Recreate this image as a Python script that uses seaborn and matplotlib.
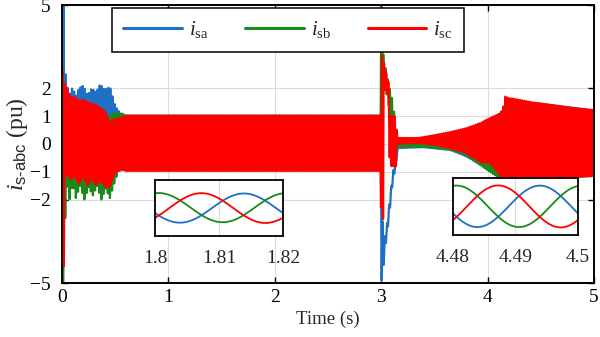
import numpy as np
import pandas as pd
import matplotlib
matplotlib.use("Agg")
import matplotlib.pyplot as plt
from matplotlib.lines import Line2D
import seaborn as sns

# ---------------- data ----------------
FREQ = 50.0                 # Hz, fundamental of the three-phase currents
SAMPLES_PER_CYCLE = 100
PHASE_A = -0.445            # phase offsets in cycles
PHASE_B = PHASE_A - 1 / 3
PHASE_C = PHASE_A - 2 / 3

# envelope knots (upper / lower) of each phase current, pu
TIME_A = [0.0, 0.014, 0.02, 0.03, 0.056, 0.075, 0.10, 0.13, 0.16, 0.20, 0.24, 0.28, 0.32,
          0.36, 0.40, 0.45, 0.50, 0.56, 0.60, 2.99, 3.00, 3.015, 3.03, 3.05, 3.08, 3.11,
          3.13, 3.16, 3.40, 3.65, 3.80, 3.93, 4.05, 4.15, 4.20, 4.50, 5.00]
UP_A = [4.0, 5.0, 3.6, 2.6, 1.95, 1.8, 2.05, 1.7, 2.0, 2.1, 1.75, 2.0, 1.85, 2.15, 1.95,
        2.05, 1.35, 1.05, 1.0, 1.0, 1.0, -3.5, -3.4, -3.0, -2.0, -1.0, -0.7, 0.05, 0.1,
        0.35, 0.5, 0.7, 0.9, 1.2, 1.55, 1.45, 1.2]
LO_A = [-1.0, -1.0, -1.0, -1.0, -1.0, -1.0, -1.0, -1.0, -1.0, -1.0, -1.0, -1.0, -1.0,
        -1.0, -1.0, -1.0, -1.0, -0.95, -0.95, -0.95, -4.9, -4.9, -3.9, -3.4, -2.4, -1.3,
        -0.95, -0.15, -0.12, -0.22, -0.45, -0.75, -0.95, -1.2, -1.3, -1.25, -1.15]

TIME_B = [0.0, 0.01, 0.02, 0.03, 0.045, 0.07, 0.10, 0.13, 0.17, 0.21, 0.25, 0.29, 0.33,
          0.37, 0.41, 0.45, 0.48, 0.53, 0.56, 0.60, 2.99, 3.00, 3.02, 3.05, 3.08, 3.11,
          3.15, 3.40, 3.65, 3.80, 3.93, 4.02, 4.12, 4.15, 4.20, 4.50, 5.00]
UP_B = [1.0, 1.0, 1.0, 1.0, 1.0, 1.0, 1.0, 1.0, 1.0, 1.0, 1.0, 1.0, 1.0, 1.0, 1.0, 1.0,
        1.1, 1.1, 1.1, 1.03, 1.03, 5.0, 3.2, 2.5, 2.0, 1.5, 0.2, 0.15, 0.35, 0.5, 0.7,
        0.9, 1.1, 1.2, 1.55, 1.45, 1.2]
LO_B = [-1.0, -5.0, -3.5, -2.7, -1.4, -2.0, -1.4, -1.95, -1.5, -2.0, -1.55, -1.85, -1.5,
        -2.0, -1.6, -1.95, -1.55, -0.95, -0.85, -0.92, -0.92, -0.92, 2.4, 1.8, 1.2, -0.5,
        -0.1, -0.1, -0.2, -0.4, -0.75, -1.0, -1.25, -1.3, -1.3, -1.25, -1.15]

TIME_C = [0.0, 0.007, 0.018, 0.025, 0.05, 0.08, 0.12, 0.16, 0.20, 0.24, 0.28, 0.32, 0.36,
          0.40, 0.45, 0.50, 0.56, 0.60, 2.99, 3.00, 3.018, 3.022, 3.05, 3.07, 3.08, 3.14,
          3.15, 3.35, 3.50, 3.65, 3.80, 3.93, 4.02, 4.12, 4.16, 4.175, 4.19, 4.21, 4.42,
          4.74, 5.00]
UP_C = [2.6, 2.6, 2.4, 2.2, 2.0, 1.65, 1.7, 1.55, 1.6, 1.5, 1.45, 1.4, 1.3, 1.2, 0.8,
        0.9, 0.95, 1.02, 1.02, 3.3, 3.0, 3.0, 2.5, 2.2, 1.0, 1.0, 0.22, 0.22, 0.32, 0.43,
        0.57, 0.75, 0.93, 1.1, 1.47, 1.95, 1.6, 1.65, 1.5, 1.33, 1.22]
LO_C = [-1.0, -4.4, -4.4, -1.2, -1.1, -1.3, -1.15, -1.45, -1.2, -1.5, -1.25, -1.5, -1.3,
        -1.55, -1.55, -1.05, -0.9, -0.97, -0.97, -2.7, -2.7, 2.0, 1.9, 1.7, -0.8, -0.8,
        0.0, 0.04, -0.03, -0.15, -0.33, -0.65, -0.68, -1.15, -1.2, -1.3, -1.3, -1.35,
        -1.3, -1.2, -1.15]

SERIES = ["isa", "isb", "isc"]
LABELS = [r"$i_{\mathrm{sa}}$", r"$i_{\mathrm{sb}}$", r"$i_{\mathrm{sc}}$"]
COLORS = ["#1f6fc5", "#1a8a1a", "#ff0000"]
X_TICKS = [0, 1, 2, 3, 4, 5]
Y_TICKS = [-5, -2, -1, 0, 1, 2, 5]
INSET1_TICKS = [1.80, 1.81, 1.82]
INSET1_LABELS = ["1.8", "1.81", "1.82"]
INSET2_TICKS = [4.48, 4.49, 4.50]
INSET2_LABELS = ["4.48", "4.49", "4.5"]

# ---------------- build waveforms ----------------
t = np.arange(0, 5.0 + 1e-9, 1.0 / (FREQ * SAMPLES_PER_CYCLE))


def phase_current(times, up, lo, phase):
    u = np.interp(t, times, up)
    l = np.interp(t, times, lo)
    return (u + l) / 2 + (u - l) / 2 * np.sin(2 * np.pi * (FREQ * t + phase))


frames = []
for name, (tk, up, lo, ph) in zip(SERIES, [(TIME_A, UP_A, LO_A, PHASE_A),
                                          (TIME_B, UP_B, LO_B, PHASE_B),
                                          (TIME_C, UP_C, LO_C, PHASE_C)]):
    frames.append(pd.DataFrame({"t": t, "i": phase_current(tk, up, lo, ph), "phase": name}))
df = pd.concat(frames, ignore_index=True)
palette = dict(zip(SERIES, COLORS))

# ---------------- style ----------------
sns.set_theme(style="ticks")
plt.rcParams["font.family"] = ["Liberation Serif", "DejaVu Serif"]
plt.rcParams["mathtext.fontset"] = "custom"
plt.rcParams["mathtext.rm"] = "Liberation Serif"
plt.rcParams["mathtext.it"] = "Liberation Serif:italic"
plt.rcParams["mathtext.sf"] = "Liberation Sans"
plt.rcParams["axes.unicode_minus"] = True

fig = plt.figure(figsize=(6.0, 3.37), dpi=100)
ax = fig.add_axes([62 / 600, 1 - 283 / 337, 532 / 600, 278 / 337])

sns.lineplot(data=df, x="t", y="i", hue="phase", hue_order=SERIES, palette=palette,
             estimator=None, sort=False, lw=1.6, legend=False, ax=ax)

ax.set_xlim(0, 5)
ax.set_ylim(-5, 5)
ax.set_xticks(X_TICKS)
ax.set_xticklabels([str(v) for v in X_TICKS])
ax.set_yticks(Y_TICKS)
ax.set_yticklabels([("\u2212" + str(-v)) if v < 0 else str(v) for v in Y_TICKS])
ax.grid(True, color="#dcdcdc", lw=0.8)
ax.set_axisbelow(True)
ax.tick_params(direction="in", top=True, right=True, length=4, width=1,
               labelsize=14, colors="black")
ax.tick_params(axis="x", pad=4)
ax.tick_params(axis="y", pad=8)
for s in ax.spines.values():
    s.set_color("black")
    s.set_linewidth(1.4)
ax.set_xlabel("Time (s)", fontsize=13.5, labelpad=4)
ax.set_ylabel("$i_{\\mathsf{s\u2010abc}}$ (pu)", fontsize=17, labelpad=0)

handles = [Line2D([], [], color=c, lw=2.2) for c in COLORS]
leg = ax.legend(handles, LABELS, loc="upper left", bbox_to_anchor=(0.094, 0.99),
                borderaxespad=0.0, ncol=3, fontsize=15, handlelength=2.8,
                handletextpad=0.35, columnspacing=1.75, borderpad=0.55, frameon=True,
                fancybox=False, framealpha=1.0, edgecolor="black")
leg.get_frame().set_linewidth(1.1)

# ---------------- insets ----------------
def inset(rect, xlim, ylim, ticks, labels):
    axi = fig.add_axes(rect)
    sub = df[(df["t"] >= xlim[0] - 0.001) & (df["t"] <= xlim[1] + 0.001)]
    sns.lineplot(data=sub, x="t", y="i", hue="phase", hue_order=SERIES, palette=palette,
                 estimator=None, sort=False, lw=1.3, legend=False, ax=axi)
    axi.set_xlim(*xlim)
    axi.set_ylim(*ylim)
    axi.set_xticks(ticks)
    axi.set_xticklabels(labels)
    axi.set_yticks([])
    axi.set_xlabel("")
    axi.set_ylabel("")
    axi.grid(True, axis="x", color="#dcdcdc", lw=0.8)
    axi.set_axisbelow(True)
    axi.set_facecolor("white")
    axi.tick_params(axis="x", direction="in", length=0, pad=10, labelsize=14)
    for s in axi.spines.values():
        s.set_color("black")
        s.set_linewidth(1.3)
    return axi


inset([155 / 600, 1 - 236 / 337, 128 / 600, 56 / 337], (1.80, 1.82), (-1.84, 1.90),
      INSET1_TICKS, INSET1_LABELS)
inset([453 / 600, 1 - 235 / 337, 125 / 600, 57 / 337], (4.48, 4.50), (-1.77, 1.95),
      INSET2_TICKS, INSET2_LABELS)

fig.savefig("out.png", dpi=100)
